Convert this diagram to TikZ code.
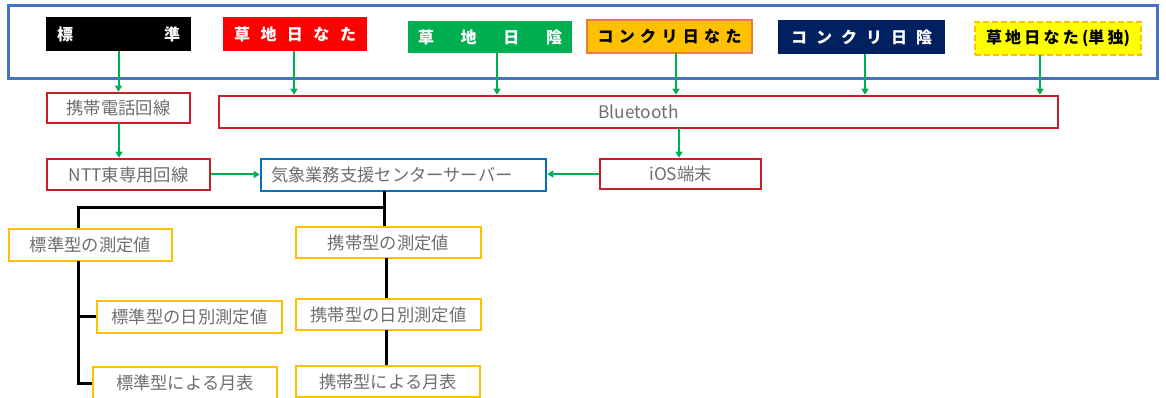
\documentclass[tikz,border=0pt]{standalone}
\usepackage{fontspec}
\setmainfont{Noto Sans CJK JP}
\usetikzlibrary{arrows.meta}
\definecolor{frameblue}{RGB}{68,114,196}
\definecolor{boxred}{RGB}{200,30,40}
\definecolor{srvblue}{RGB}{0,112,192}
\definecolor{gold}{RGB}{255,192,0}
\definecolor{arrgreen}{RGB}{0,176,80}
\definecolor{navyblue}{RGB}{0,32,96}
\definecolor{orangeb}{RGB}{237,125,49}
\definecolor{brightred}{RGB}{255,0,0}
\definecolor{brightyellow}{RGB}{255,255,0}
\definecolor{txtgray}{RGB}{110,110,110}
\newcommand{\spreadtxt}[2]{\makebox[#1][s]{#2}}
\begin{document}
\begin{tikzpicture}[x=1pt,y=-1pt,
  tag/.style={inner sep=0pt, font=\fontsize{16}{18}\selectfont\bfseries},
  box/.style={draw, line width=2.6pt, fill=white, inner sep=0pt, text=txtgray, font=\fontsize{17.3}{20}\selectfont},
  redbox/.style={box, draw=boxred},
  goldbox/.style={box, draw=gold},
  arr/.style={draw=arrgreen, line width=2pt, -{Triangle[width=7pt,length=6pt]}},
  tree/.style={draw=black, line width=3pt}]
\useasboundingbox (0,0) rectangle (1166,398);
\fill[white] (0,0) rectangle (1166,398);
% frame
\draw[frameblue, line width=3pt] (8,6) rectangle (1157,79);
% top tags
\node[tag, fill=black, text=white, minimum width=145pt, minimum height=34pt] (b1) at (118.5,34) {\spreadtxt{123pt}{標 準}};
\node[tag, fill=brightred, text=white, minimum width=144pt, minimum height=34pt] (b2) at (295,34) {\spreadtxt{122pt}{草 地 日 な た}};
\node[tag, fill=arrgreen, text=white, minimum width=164pt, minimum height=32pt] (b3) at (490,37) {\spreadtxt{144pt}{草 地 日 陰}};
\node[tag, fill=gold, draw=orangeb, line width=2.4pt, text=black, minimum width=165pt, minimum height=33pt] (b4) at (669.5,36.5) {\spreadtxt{144pt}{コ ン ク リ 日 な た}};
\node[tag, fill=navyblue, text=white, minimum width=167pt, minimum height=34pt] (b5) at (861.5,37) {\spreadtxt{141pt}{コ ン ク リ 日 陰}};
\node[tag, fill=brightyellow, draw=gold, line width=2.4pt, dash pattern=on 6pt off 3pt, text=black, minimum width=166pt, minimum height=33pt] (b6) at (1058,38.5) {\spreadtxt{144pt}{草 地 日 な た (単 独)}};
% second row
\node[redbox, minimum width=143pt, minimum height=30pt] (ph) at (118.5,108) {携帯電話回線};
\node[redbox, minimum width=839pt, minimum height=32pt] (bt) at (638.5,112) {Bluetooth};
\node[redbox, minimum width=163pt, minimum height=31pt] (ntt) at (128.5,174.5) {NTT東専用回線};
\node[box, draw=srvblue, minimum width=285pt, minimum height=32pt, text width=265pt, align=left] (sv) at (403.5,175) {気象業務支援センターサーバー};
\node[redbox, minimum width=161pt, minimum height=30pt] (ios) at (680.5,174) {iOS端末};
% bottom
\node[goldbox, minimum width=163pt, minimum height=32pt] (s1) at (90.5,245) {標準型の測定値};
\node[goldbox, minimum width=185pt, minimum height=32pt] (s2) at (189.5,317) {標準型の日別測定値};
\node[goldbox, minimum width=184pt, minimum height=32pt] (s3) at (185,383) {標準型による月表};
\node[goldbox, minimum width=185pt, minimum height=31pt] (p1) at (388.5,242.5) {携帯型の測定値};
\node[goldbox, minimum width=185pt, minimum height=31pt] (p2) at (388.5,314.5) {携帯型の日別測定値};
\node[goldbox, minimum width=184pt, minimum height=31pt] (p3) at (388,381.5) {携帯型による月表};
% arrow start coordinates
\coordinate (a2) at (294,51);
\coordinate (a3) at (497,53);
\coordinate (a4) at (676,53);
\coordinate (a5) at (865,54);
\coordinate (a6) at (1040,55);
\coordinate (a7) at (679,128);
\coordinate (a8) at (119,123);
% arrows
\draw[arr] (b1.south) -- (b1.south |- ph.north);
\draw[arr] (a2) -- (a2 |- bt.north);
\draw[arr] (a3) -- (a3 |- bt.north);
\draw[arr] (a4) -- (a4 |- bt.north);
\draw[arr] (a5) -- (a5 |- bt.north);
\draw[arr] (a6) -- (a6 |- bt.north);
\draw[arr] (a7) -- (a7 |- ios.north);
\draw[arr] (a8) -- (a8 |- ntt.north);
\draw[arr] (ntt.east) -- (ntt.east -| sv.west);
\draw[arr] (ios.west) -- (ios.west -| sv.east);
% tree
\coordinate (t0) at (384,191);
\coordinate (tj) at (384,207);
\coordinate (tl) at (78,207);
\coordinate (u1) at (78,261);
\coordinate (u2) at (78,316);
\coordinate (u3) at (78,383);
\coordinate (q1) at (386,258);
\coordinate (q2) at (386,330);
\draw[tree] (t0) -- (t0 |- p1.north);
\draw[tree] (tj) -- (tl) -- (tl |- s1.north);
\draw[tree] (u1) -- (u3) -- (u3 -| s3.west);
\draw[tree] (u2) -- (u2 -| s2.west);
\draw[tree] (q1) -- (q1 |- p2.north);
\draw[tree] (q2) -- (q2 |- p3.north);
\end{tikzpicture}
\end{document}
